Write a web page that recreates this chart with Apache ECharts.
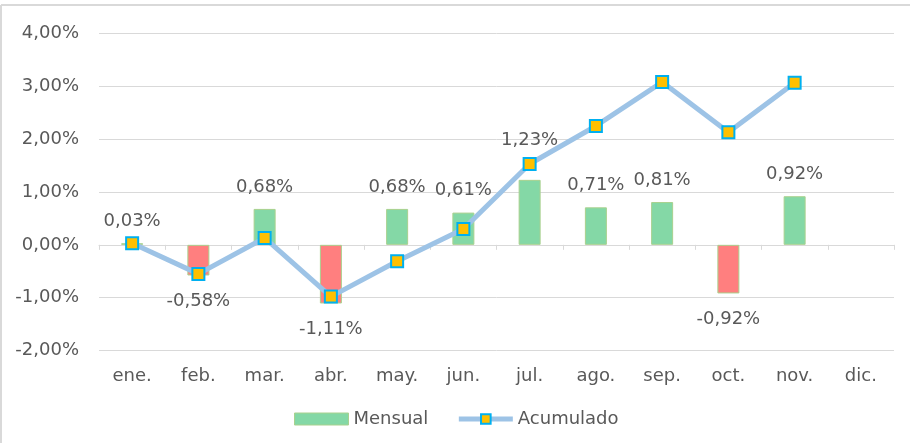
<!DOCTYPE html>
<html>
<head>
<meta charset="utf-8">
<script src="https://cdn.jsdelivr.net/npm/echarts@6/dist/echarts.min.js"></script>
<style>
html,body{margin:0;padding:0;background:#fff;}
#c{width:910px;height:443px;}
</style>
</head>
<body>
<div id="c"></div>
<script>
// ---- data ----
var categories = ['ene.', 'feb.', 'mar.', 'abr.', 'may.', 'jun.', 'jul.', 'ago.', 'sep.', 'oct.', 'nov.', 'dic.'];
var mensual = [0.03, -0.58, 0.68, -1.11, 0.68, 0.61, 1.23, 0.71, 0.81, -0.92, 0.92, null];
var acumulado = [0.03, -0.55, 0.13, -0.98, -0.31, 0.30, 1.53, 2.25, 3.08, 2.13, 3.07, null];
var yTicks = { min: -2, max: 4, interval: 1 };
var seriesNames = ['Mensual', 'Acumulado'];

// ---- style ----
var FONT = 'DejaVu Sans';
var TXT = '#595959';
var GRIDC = '#d9d9d9';
var labelLift = { 6: 31 }; // jul label was moved up in the source

function pct(v) { return v.toFixed(2).replace('.', ',') + '%'; }

var barData = mensual.map(function (v, i) {
  if (v === null) return null;
  var neg = v < 0;
  return {
    value: v,
    itemStyle: { color: neg ? '#FF7F7F' : '#84D8A6' },
    label: {
      position: neg ? 'bottom' : 'top',
      distance: labelLift[i] !== undefined ? labelLift[i] : (neg ? 17 : 13)
    }
  };
});

var chart = echarts.init(document.getElementById('c'), null, { renderer: 'canvas' });
chart.setOption({
  animation: false,
  backgroundColor: '#fff',
  textStyle: { fontFamily: FONT },
  graphic: [
    { type: 'line', shape: { x1: 1, y1: 5, x2: 910, y2: 5 }, style: { stroke: GRIDC, lineWidth: 2 } },
    { type: 'line', shape: { x1: 1, y1: 5, x2: 1, y2: 443 }, style: { stroke: GRIDC, lineWidth: 2 } }
  ],
  grid: { left: 99, right: 16, top: 33.5, bottom: 92.5 },
  legend: {
    left: 289, top: 405,
    itemWidth: 54, itemHeight: 12, itemGap: 28,
    textStyle: { color: TXT, fontSize: 18, fontFamily: FONT },
    data: [
      { name: seriesNames[0], icon: 'rect', itemStyle: { color: '#84D8A6', borderColor: '#A9D18E', borderWidth: 1 } },
      { name: seriesNames[1], lineStyle: { color: '#9DC3E6', width: 5 } }
    ]
  },
  xAxis: [
    {
      type: 'category', data: categories, position: 'bottom',
      axisLine: { show: false, onZero: false },
      axisTick: { show: false },
      axisLabel: { color: TXT, fontSize: 18, fontFamily: FONT, margin: 17 }
    },
    {
      type: 'category', data: categories, position: 'bottom',
      axisLine: { show: true, onZero: true, lineStyle: { color: GRIDC, width: 1 } },
      axisTick: { show: true, length: 5, lineStyle: { color: GRIDC } },
      axisLabel: { show: false }
    }
  ],
  yAxis: {
    type: 'value', min: yTicks.min, max: yTicks.max, interval: yTicks.interval,
    axisLine: { show: false }, axisTick: { show: false },
    splitLine: { lineStyle: { color: GRIDC, width: 1 } },
    axisLabel: { color: TXT, fontSize: 18, fontFamily: FONT, margin: 20, formatter: pct }
  },
  series: [
    {
      name: seriesNames[0], type: 'bar', xAxisIndex: 0, barWidth: 22,
      itemStyle: { color: '#84D8A6', borderColor: '#A9D18E', borderWidth: 1 },
      label: {
        show: true, color: TXT, fontSize: 18, fontFamily: FONT,
        formatter: function (p) { return pct(p.value); }
      },
      data: barData, z: 2
    },
    {
      name: seriesNames[1], type: 'line', xAxisIndex: 0,
      data: acumulado,
      symbol: 'rect', symbolSize: 12,
      lineStyle: { color: '#9DC3E6', width: 5 },
      itemStyle: { color: '#FFC000', borderColor: '#00B0F0', borderWidth: 2 },
      z: 5
    }
  ]
});
</script>
</body>
</html>
